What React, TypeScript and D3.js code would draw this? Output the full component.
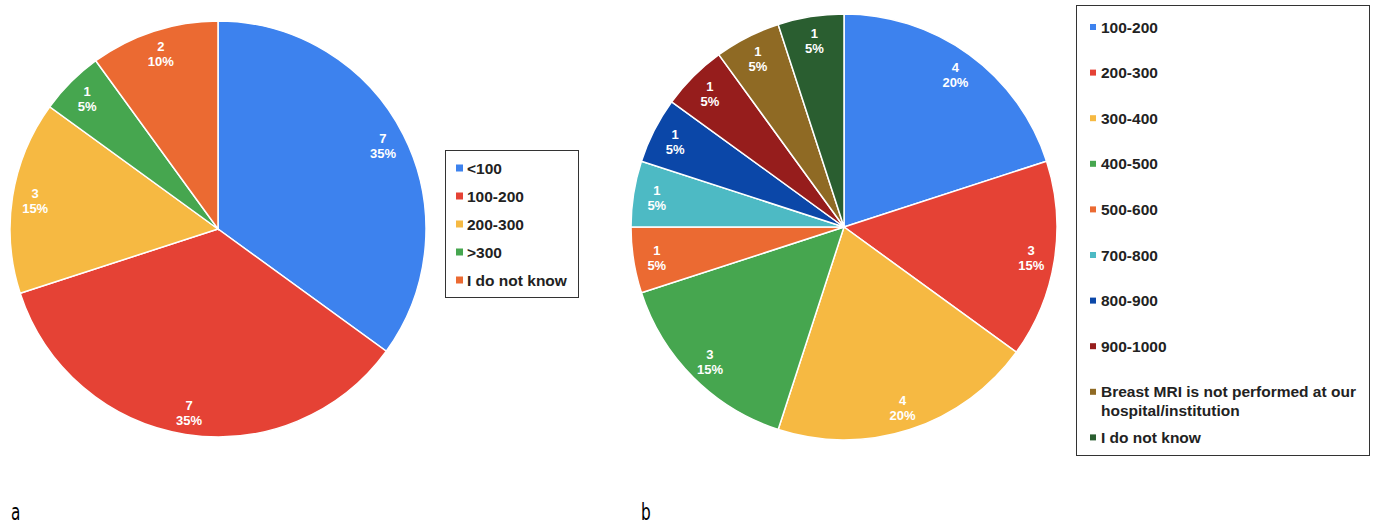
import React from "react";
import * as d3 from "d3";

const catsA = ["<100", "100-200", "200-300", ">300", "I do not know"];
const valsA = [7, 7, 3, 1, 2];
const colorsA = ["#3d82ee", "#e54235", "#f6b942", "#46a64f", "#eb6a32"];

const catsB = ["100-200", "200-300", "300-400", "400-500", "500-600", "700-800", "800-900", "900-1000", "Breast MRI is not performed at our hospital/institution", "I do not know"];
const valsB = [4, 3, 4, 3, 1, 1, 1, 1, 1, 1];
const colorsB = ["#3d82ee", "#e54235", "#f6b942", "#46a64f", "#eb6a32", "#4dbac4", "#0b47a8", "#961d1c", "#8f6a24", "#2a5e30"];

const legendLinesB = [["100-200"], ["200-300"], ["300-400"], ["400-500"], ["500-600"], ["700-800"], ["800-900"], ["900-1000"], ["Breast MRI is not performed at our", "hospital/institution"], ["I do not know"]];

const FONT = "'Liberation Sans', Arial, sans-serif";

function Pie({ cx, cy, r, vals, colors }: { cx: number; cy: number; r: number; vals: number[]; colors: string[] }) {
  const total = d3.sum(vals);
  const arcs = d3.pie<number>().sort(null).value((d) => d)(vals);
  const arc = d3.arc<d3.PieArcDatum<number>>().innerRadius(0).outerRadius(r);
  const lr = r * 0.89;
  return (
    <g transform={`translate(${cx},${cy})`}>
      {arcs.map((a, i) => (
        <path key={i} d={arc(a) || ""} fill={colors[i]} stroke="#fff" strokeWidth={1.5} />
      ))}
      {arcs.map((a, i) => {
        const m = (a.startAngle + a.endAngle) / 2;
        const x = Math.sin(m) * lr;
        const y = -Math.cos(m) * lr;
        return (
          <text key={"t" + i} x={x} y={y} textAnchor="middle" fill="#fff" fontFamily={FONT} fontWeight="bold" fontSize={13}>
            <tspan x={x} dy="-0.15em">{vals[i]}</tspan>
            <tspan x={x} dy="1.15em">{Math.round((vals[i] / total) * 100) + "%"}</tspan>
          </text>
        );
      })}
    </g>
  );
}

export default function App() {
  return (
    <svg width={1376} height={526} style={{ position: "absolute", left: 0, top: 0, background: "#fff" }}>
      <rect width={1376} height={526} fill="#fff" />
      <Pie cx={218} cy={229} r={208} vals={valsA} colors={colorsA} />
      <Pie cx={844} cy={227} r={213} vals={valsB} colors={colorsB} />

      {/* Legend a */}
      <rect x={445.5} y={150.5} width={133} height={147} fill="none" stroke="#333" strokeWidth={1} />
      {catsA.map((c, i) => (
        <g key={c} transform={`translate(0,${168 + i * 28})`}>
          <rect x={456} y={-3.5} width={7} height={7} fill={colorsA[i]} />
          <text x={467} y={5.5} fontFamily={FONT} fontWeight="bold" fontSize={15.5} fill="#222">{c}</text>
        </g>
      ))}

      {/* Legend b */}
      <rect x={1076.5} y={5.5} width={293} height={450} fill="none" stroke="#333" strokeWidth={1} />
      {catsB.map((c, i) => {
        const y = 27 + i * 45.6;
        return (
          <g key={c} transform={`translate(0,${y})`}>
            <rect x={1090} y={-3} width={6} height={6} fill={colorsB[i]} />
            {legendLinesB[i].map((ln, j) => (
              <text key={j} x={1101} y={5.5 + j * 18.7} fontFamily={FONT} fontWeight="bold" fontSize={15.5} fill="#222">{ln}</text>
            ))}
          </g>
        );
      })}

      <text transform="translate(11,520) scale(1,1.3)" fontFamily="'DejaVu Sans Condensed', 'DejaVu Sans', sans-serif" fontSize={17} fill="#000">a</text>
      <text transform="translate(641,520) scale(1,1.3)" fontFamily="'DejaVu Sans Condensed', 'DejaVu Sans', sans-serif" fontSize={17} fill="#000">b</text>
    </svg>
  );
}
